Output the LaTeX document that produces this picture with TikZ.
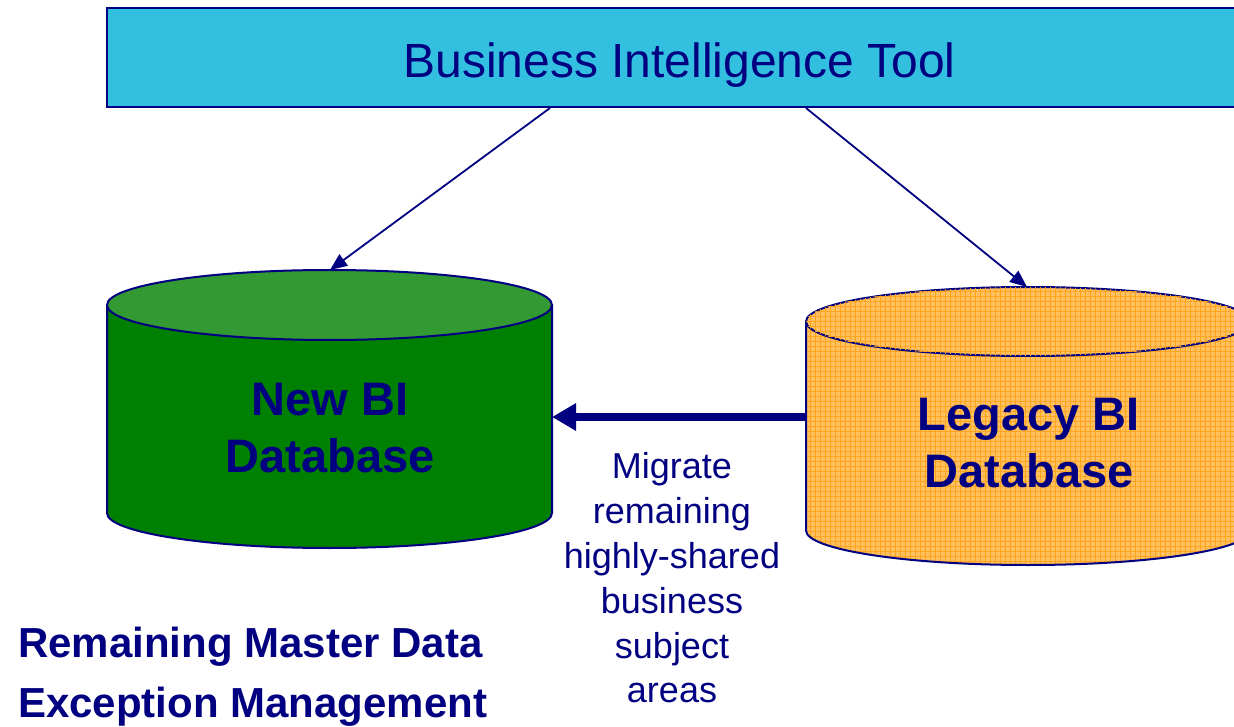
\documentclass[tikz,border=0pt]{standalone}
\usepackage{fontspec}
\setmainfont{Liberation Sans}
\usetikzlibrary{arrows.meta,patterns.meta}
\definecolor{navy}{HTML}{000080}
\definecolor{toolcyan}{HTML}{33C0E0}
\definecolor{newgreen}{HTML}{008000}
\definecolor{newgreentop}{HTML}{339933}
\definecolor{legacyorange}{HTML}{FFC060}
\definecolor{legacygrid}{HTML}{FFA31A}

\begin{document}
\begin{tikzpicture}[x=1pt,y=-1pt,
	outline/.style={draw=navy,line width=2pt},
	greenfill/.style={fill=newgreen},
	legacyfill/.style={fill=legacyorange,
		postaction={pattern={Lines[distance=5pt,line width=1pt]},pattern color=legacygrid},
		postaction={pattern={Lines[angle=90,distance=5pt,line width=1pt]},pattern color=legacygrid}},
	label/.style={text=navy,inner sep=0pt,align=center},
	link/.style={draw=navy,line width=1.8pt,-{Triangle[length=17pt,width=14pt]}},
	migrate/.style={draw=navy,line width=8pt,-{Triangle[length=24pt,width=26pt]}}]
	\useasboundingbox (0,0) rectangle (1234,727);
	\clip (0,0) rectangle (1234,727);

	\node[outline,fill=toolcyan,minimum width=1145pt,minimum height=99pt,text height=40pt,text depth=0pt,
		text=navy,font=\fontsize{48}{58}\selectfont] (tool) at (679.5,57.5) {Business Intelligence Tool};

	% new database
	\path[greenfill] (107,305) -- (107,513) arc[start angle=180,end angle=0,x radius=222.5,y radius=35] -- (552,305) -- cycle;
	\draw[outline] (107,305) -- (107,513) arc[start angle=180,end angle=0,x radius=222.5,y radius=35] -- (552,305);
	\draw[outline,fill=newgreentop] (329.5,305) ellipse[x radius=222.5,y radius=35];

	% legacy database
	\path[legacyfill] (806,321.5) -- (806,530.5) arc[start angle=180,end angle=0,x radius=222,y radius=34.5] -- (1250,321.5) -- cycle;
	\draw[outline] (806,321.5) -- (806,530.5) arc[start angle=180,end angle=0,x radius=222,y radius=34.5] -- (1250,321.5);
	\draw[outline,legacyfill] (1028,321.5) ellipse[x radius=222,y radius=34.5];

	\coordinate (newtop) at (330,270);
	\coordinate (newside) at (552,417);
	\coordinate (legacytop) at (1027,287);
	\coordinate (legacyside) at (806,417);

	\node[label,font=\bfseries\fontsize{47}{57}\selectfont] (newdb) at (330,428.3) {New BI\\Database};
	\node[label,font=\bfseries\fontsize{47}{57}\selectfont] (legacydb) at (1029,443) {Legacy BI\\Database};
	\node[label,font=\fontsize{36}{44.8}\selectfont] (note) at (672,578) {Migrate\\remaining\\highly-shared\\business\\subject\\areas};
	\node[label,align=left,anchor=west,font=\bfseries\fontsize{42}{60}\selectfont] (pending) at (18,677) {Remaining Master Data\\Exception Management};

	\draw[link] ([xshift=-129.5pt]tool.south) -- (newtop);
	\draw[link] ([xshift=126.5pt]tool.south) -- (legacytop);
	\draw[migrate] (legacyside) -- (newside);
\end{tikzpicture}
\end{document}
